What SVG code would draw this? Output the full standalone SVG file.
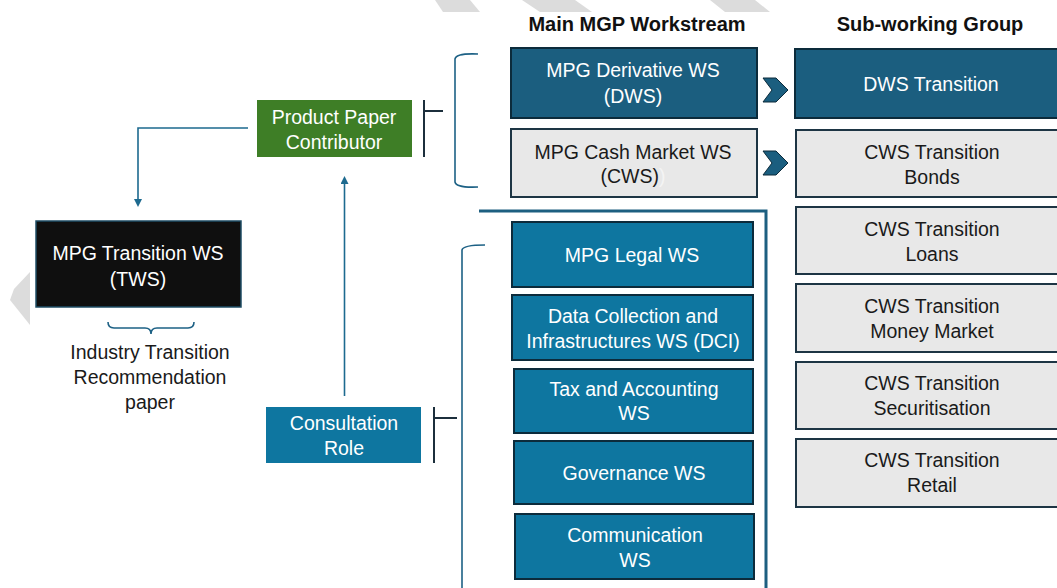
<svg xmlns="http://www.w3.org/2000/svg" width="1057" height="588" viewBox="0 0 1057 588">
<defs>
<style>
text{font-family:"Liberation Sans",Arial,sans-serif;font-size:19.5px;text-anchor:middle}
.hd{font-weight:bold;fill:#111;font-size:20px}
.w{fill:#ffffff}
.k{fill:#1a1a1a}
.dk{fill:#1b5e7f;stroke:#0c2b3b;stroke-width:2}
.bl{fill:#0e76a0;stroke:#0c2b3b;stroke-width:2}
.lt{fill:#e8e8e8;stroke:#1d3544;stroke-width:2}
.ln{fill:none;stroke:#1d6a8f;stroke-width:1.6}
.tee{fill:none;stroke:#1c2f3c;stroke-width:2}
.br{fill:none;stroke:#1d6185;stroke-width:1.6}
.bg{fill:#dcdcdc}
.chev{fill:#1b5e7f;stroke:#0c2b3b;stroke-width:1}
</style>
<marker id="ah" viewBox="0 0 10 10" refX="5" refY="5" markerWidth="8" markerHeight="8" orient="auto-start-reverse" markerUnits="userSpaceOnUse">
<path d="M0,0 L10,5 L0,10 z" fill="#1d6a8f"/>
</marker>
</defs>
<rect width="1057" height="588" fill="#ffffff"/>
<g id="background">
<polygon class="bg" points="435,0 470,0 480,12 443,12"/>
<polygon class="bg" points="522,0 575,0 592,12 540,12"/>
<polygon class="bg" points="710,0 755,0 770,12 725,12"/>
<polygon class="bg" points="30,272 14,289 10,300 30,325"/>
</g>
<g id="headers">
<text class="hd" x="637" y="31">Main MGP Workstream</text>
<text class="hd" x="930" y="31">Sub-working Group</text>
</g>
<g id="connectors">
<path class="br" d="M478,54 Q456,53 455,59 L455,182 Q456,188 478,187"/>
<path class="br" d="M485,245 Q463,245 462,250 L462,588"/>
<path d="M479,211 L766,211 L766,588" fill="none" stroke="#1d5f80" stroke-width="3"/>
<path class="tee" d="M424,100 L424,157 M424,111 L443,111"/>
<path class="tee" d="M434,407 L434,463 M434,418 L457,418"/>
<path class="ln" d="M248,128 L138,128 L138,203" marker-end="url(#ah)"/>
<path class="ln" d="M344.5,396 L344.5,180" marker-end="url(#ah)"/>
<path class="br" d="M108,322 Q108,328 114,328 L145,328 Q151,328 151,334 Q151,328 157,328 L188,328 Q194,328 194,322"/>
<polygon class="chev" points="763,78 776,78 788,90 776,102 763,102 772,90"/>
<polygon class="chev" points="763,151 776,151 788,163 776,175 763,175 772,163"/>
</g>
<g id="product-paper">
<rect x="257" y="100" width="155" height="57" fill="#3e7e26"/>
<text class="w" x="334" y="124">Product Paper</text>
<text class="w" x="334" y="149">Contributor</text>
</g>
<g id="tws">
<rect x="36" y="221" width="205" height="86" fill="#0f0f0f" stroke="#1f4e66" stroke-width="1.5"/>
<text class="w" x="138" y="260">MPG Transition WS</text>
<text class="w" x="138" y="286">(TWS)</text>
</g>
<g id="industry-paper">
<text class="k" x="150" y="359">Industry Transition</text>
<text class="k" x="150" y="384">Recommendation</text>
<text class="k" x="150" y="409">paper</text>
</g>
<g id="consultation">
<rect x="266" y="407" width="155" height="56" fill="#0e76a0"/>
<text class="w" x="344" y="430">Consultation</text>
<text class="w" x="344" y="455">Role</text>
</g>
<g id="dws">
<rect class="dk" x="511" y="48" width="246" height="70"/>
<text class="w" x="633" y="77">MPG Derivative WS</text>
<text class="w" x="633" y="103">(DWS)</text>
</g>
<g id="cws">
<rect class="lt" x="511" y="129" width="246" height="68"/>
<text class="k" x="633" y="159">MPG Cash Market WS</text>
<text class="k" x="633" y="183">(CWS)<tspan fill="#f4f4f4">)</tspan></text>
</g>
<g id="legal">
<rect class="bl" x="512" y="222" width="241" height="65"/>
<text class="w" x="632" y="262">MPG Legal WS</text>
</g>
<g id="dci">
<rect class="bl" x="512" y="295" width="241" height="65"/>
<text class="w" x="633" y="323">Data Collection and</text>
<text class="w" x="633" y="348">Infrastructures WS (DCI)</text>
</g>
<g id="tax">
<rect class="bl" x="514" y="369" width="239" height="64"/>
<text class="w" x="634" y="396">Tax and Accounting</text>
<text class="w" x="634" y="420">WS</text>
</g>
<g id="governance">
<rect class="bl" x="514" y="441" width="239" height="63"/>
<text class="w" x="634" y="480">Governance WS</text>
</g>
<g id="communication">
<rect class="bl" x="515" y="514" width="239" height="65"/>
<text class="w" x="635" y="542">Communication</text>
<text class="w" x="635" y="567">WS</text>
</g>
<g id="dws-transition">
<rect class="dk" x="795" y="49" width="270" height="69"/>
<text class="w" x="931" y="91">DWS Transition</text>
</g>
<g id="cws-bonds">
<rect class="lt" x="796" y="130" width="270" height="67"/>
<text class="k" x="932" y="159">CWS Transition</text>
<text class="k" x="932" y="184">Bonds</text>
</g>
<g id="cws-loans">
<rect class="lt" x="796" y="207" width="270" height="67"/>
<text class="k" x="932" y="236">CWS Transition</text>
<text class="k" x="932" y="261">Loans</text>
</g>
<g id="cws-money">
<rect class="lt" x="796" y="284" width="270" height="68"/>
<text class="k" x="932" y="313">CWS Transition</text>
<text class="k" x="932" y="338">Money Market</text>
</g>
<g id="cws-securitisation">
<rect class="lt" x="796" y="362" width="270" height="67"/>
<text class="k" x="932" y="390">CWS Transition</text>
<text class="k" x="932" y="415">Securitisation</text>
</g>
<g id="cws-retail">
<rect class="lt" x="796" y="439" width="270" height="68"/>
<text class="k" x="932" y="467">CWS Transition</text>
<text class="k" x="932" y="492">Retail</text>
</g>
</svg>
